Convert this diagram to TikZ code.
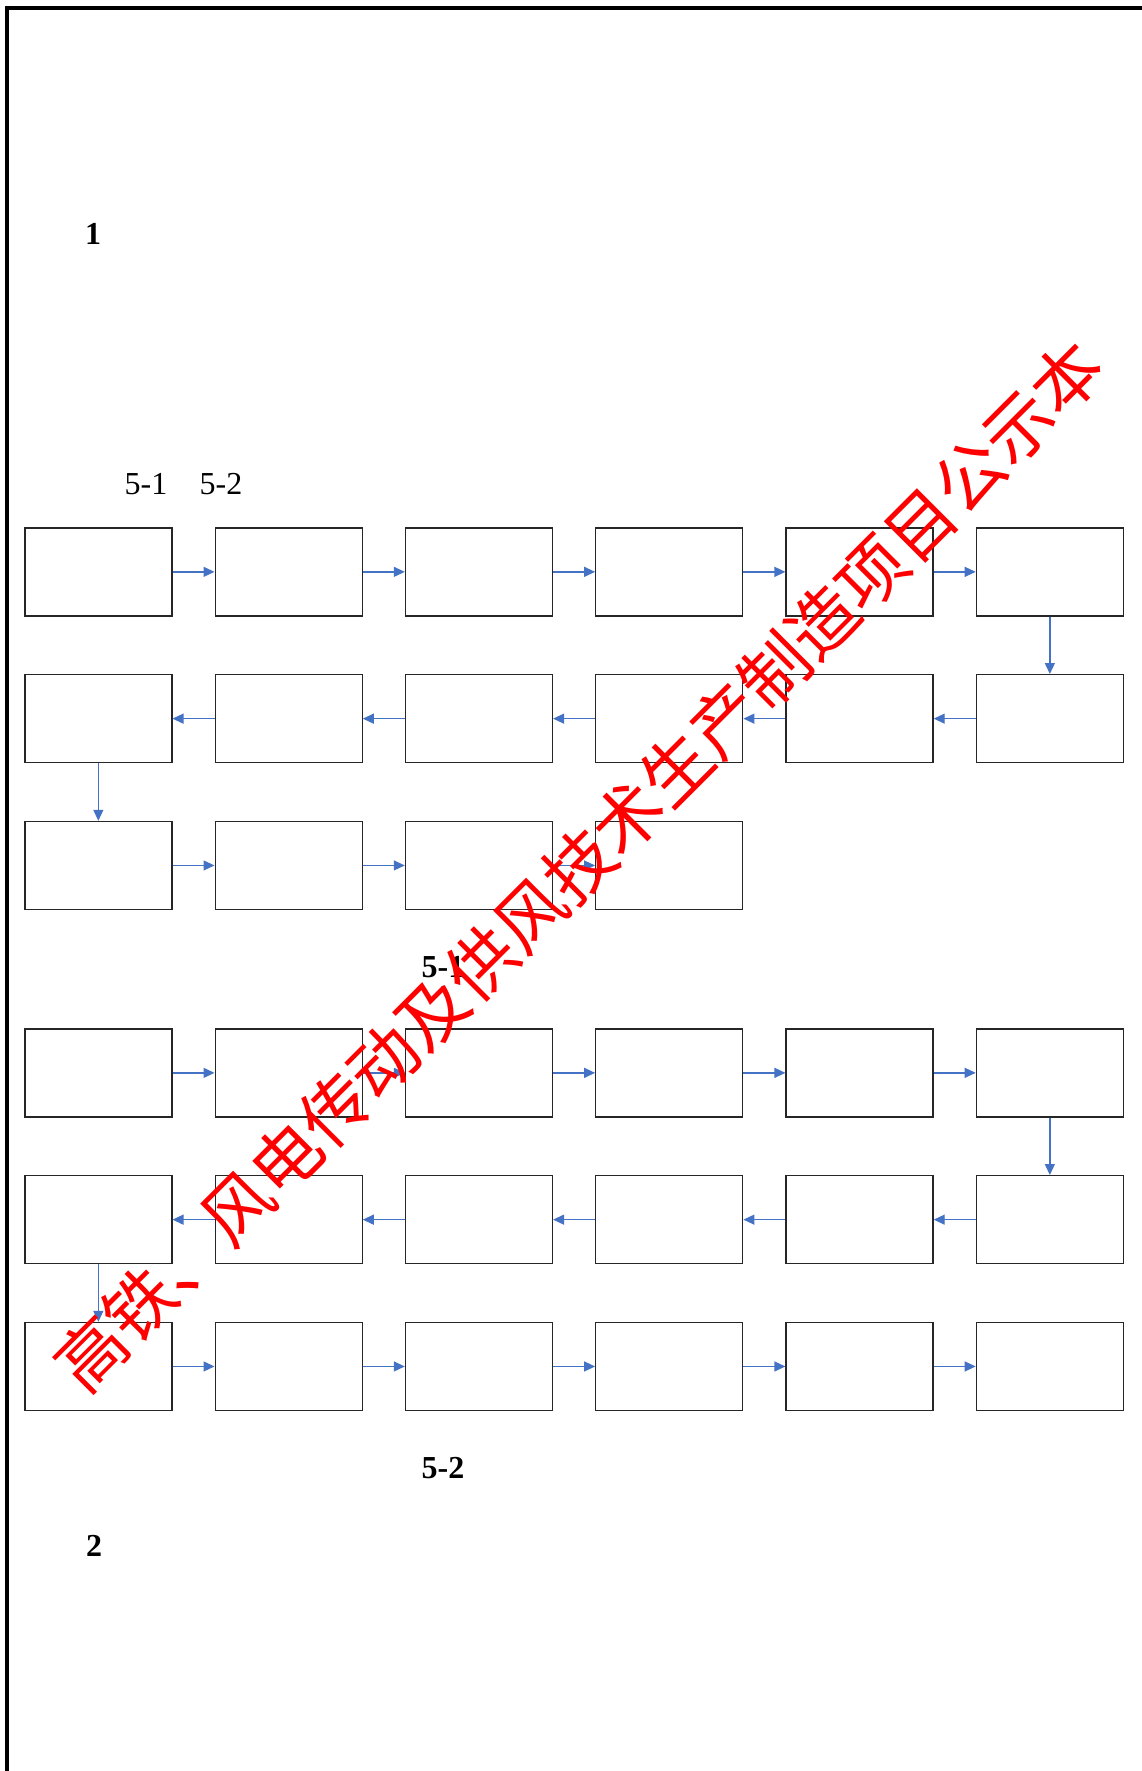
\documentclass[tikz,border=0pt]{standalone}
\usepackage{xcolor}
\usepackage{fontspec}
\setmainfont{Liberation Serif}
\newfontfamily\cjkfont{Noto Sans CJK SC}
\usepackage{tikz}
\usetikzlibrary{arrows.meta,positioning}
\definecolor{flowblue}{RGB}{68,114,196}

\begin{document}
\begin{tikzpicture}[x=1pt,y=-1pt,
  every matrix/.style={ampersand replacement=\&,column sep=42pt,row sep=57.5pt,inner sep=0pt},
  stage/.style={draw=black!85,line width=1.3pt,minimum width=147pt,minimum height=88pt,inner sep=0pt},
  flow/.style={-{Triangle[length=11pt,width=10pt]},draw=flowblue,fill=flowblue,line width=1.3pt},
  secno/.style={font=\fontsize{32}{38}\selectfont\bfseries,inner sep=0pt},
  figref/.style={font=\fontsize{32}{38}\selectfont,inner sep=0pt},
  figcap/.style={secno},
  stamp/.style={font=\cjkfont\fontsize{69}{69}\selectfont,text=red,rotate=45,inner sep=0pt}]

    \useasboundingbox (0,0) rectangle (1142,1771);
    \draw[line width=3.6pt] (6.7,1771) -- (6.7,8) -- (1142,8);

    \node[secno](sec1) at (93,234) {1};
    \node[figref](ref1) at (146,484) {5-1};
    \node[figref](ref2) at (221,484) {5-2};

    % figure 5-1
    \matrix (flowA) [anchor=north west] at (24,527) {
        \node[stage](a11){}; \& \node[stage](a12){}; \& \node[stage](a13){};
            \& \node[stage](a14){}; \& \node[stage](a15){}; \& \node[stage](a16){}; \\
        \node[stage](a21){}; \& \node[stage](a22){}; \& \node[stage](a23){};
            \& \node[stage](a24){}; \& \node[stage](a25){}; \& \node[stage](a26){}; \\
        \node[stage](a31){}; \& \node[stage](a32){}; \& \node[stage](a33){};
            \& \node[stage](a34){}; \\
    };

    \draw[flow](a11) -- (a12);
    \draw[flow](a12) -- (a13);
    \draw[flow](a13) -- (a14);
    \draw[flow](a14) -- (a15);
    \draw[flow](a15) -- (a16);
    \draw[flow](a16) -- (a26);
    \draw[flow](a26) -- (a25);
    \draw[flow](a25) -- (a24);
    \draw[flow](a24) -- (a23);
    \draw[flow](a23) -- (a22);
    \draw[flow](a22) -- (a21);
    \draw[flow](a21) -- (a31);
    \draw[flow](a31) -- (a32);
    \draw[flow](a32) -- (a33);
    \draw[flow](a33) -- (a34);

    \node[figcap](capA) at (443,967) {5-1};

    % figure 5-2
    \matrix (flowB) [anchor=north west] at (24,1028) {
        \node[stage](b11){}; \& \node[stage](b12){}; \& \node[stage](b13){};
            \& \node[stage](b14){}; \& \node[stage](b15){}; \& \node[stage](b16){}; \\
        \node[stage](b21){}; \& \node[stage](b22){}; \& \node[stage](b23){};
            \& \node[stage](b24){}; \& \node[stage](b25){}; \& \node[stage](b26){}; \\
        \node[stage](b31){}; \& \node[stage](b32){}; \& \node[stage](b33){};
            \& \node[stage](b34){}; \& \node[stage](b35){}; \& \node[stage](b36){}; \\
    };

    \draw[flow](b11) -- (b12);
    \draw[flow](b12) -- (b13);
    \draw[flow](b13) -- (b14);
    \draw[flow](b14) -- (b15);
    \draw[flow](b15) -- (b16);
    \draw[flow](b16) -- (b26);
    \draw[flow](b26) -- (b25);
    \draw[flow](b25) -- (b24);
    \draw[flow](b24) -- (b23);
    \draw[flow](b23) -- (b22);
    \draw[flow](b22) -- (b21);
    \draw[flow](b21) -- (b31);
    \draw[flow](b31) -- (b32);
    \draw[flow](b32) -- (b33);
    \draw[flow](b33) -- (b34);
    \draw[flow](b34) -- (b35);
    \draw[flow](b35) -- (b36);

    \node[figcap](capB) at (443,1468) {5-2};
    \node[secno](sec2) at (94,1546) {2};

    \node[stamp](stamp) at (579,866) {高铁、风电传动及供风技术生产制造项目公示本};
\end{tikzpicture}
\end{document}
